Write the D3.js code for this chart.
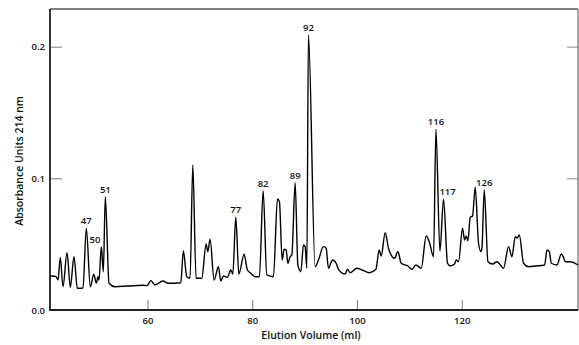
<!DOCTYPE html>
<html>
<head>
<meta charset="utf-8">
<script src="https://cdn.jsdelivr.net/npm/d3@7"></script>
<style>
  html, body { margin: 0; padding: 0; background: #fff; }
  svg { display: block; }
  text { font-family: "Open Sans", "Noto Sans", sans-serif; fill: #111; }
</style>
</head>
<body>
<svg id="chart" width="579" height="345"></svg>
<script>
// Elution volume (ml)
const volume = [41.40,41.97,42.55,42.93,43.37,43.88,44.65,45.28,45.98,46.62,47.70,48.33,49.10,49.75,50.24,50.57,50.76,51.20,51.58,51.96,
  52.67,53.76,56.30,59.17,59.93,60.64,61.46,62.93,64.00,66.37,66.86,67.51,68.14,68.66,69.29,70.38,71.20,71.52,71.96,72.73,
  73.55,74.01,74.50,75.27,75.92,76.30,76.87,77.45,78.46,79.09,79.74,80.56,81.38,82.09,82.79,84.06,84.82,85.20,85.72,86.10,
  86.48,86.81,87.25,87.57,88.20,88.72,89.29,89.79,90.11,90.43,90.74,92.02,92.65,93.61,94.12,94.56,95.33,96.03,96.47,97.75,
  98.19,98.71,99.99,101.00,102.39,103.62,104.25,104.63,105.39,106.02,107.17,107.82,108.45,109.73,110.49,111.26,112.27,113.22,113.80,114.62,
  115.08,115.84,116.53,117.29,117.81,118.63,118.95,119.39,120.16,120.54,120.86,121.19,121.63,122.07,122.58,123.21,123.67,123.86,124.30,125.01,
  125.89,126.73,127.36,127.99,128.94,129.59,130.22,130.61,130.99,131.81,132.77,134.05,135.82,136.28,136.72,137.10,138.19,139.01,139.39,139.78,
  140.73,142.20];
// Absorbance units at 214 nm
const absorbance = [0.0258,0.0258,0.0254,0.0228,0.0400,0.0177,0.0435,0.0172,0.0405,0.0165,0.0167,0.0621,0.0177,0.0271,0.0205,0.0253,0.0228,0.0481,0.0291,0.0861,
  0.0203,0.0177,0.0182,0.0188,0.0185,0.0223,0.0190,0.0220,0.0203,0.0207,0.0448,0.0253,0.0241,0.1101,0.0241,0.0241,0.0501,0.0443,0.0537,0.0228,
  0.0329,0.0220,0.0258,0.0248,0.0304,0.0273,0.0704,0.0273,0.0423,0.0304,0.0279,0.0253,0.0253,0.0906,0.0266,0.0253,0.0843,0.0823,0.0380,0.0461,
  0.0456,0.0355,0.0405,0.0418,0.0967,0.0342,0.0291,0.0494,0.0481,0.0317,0.2089,0.0329,0.0380,0.0481,0.0469,0.0317,0.0380,0.0355,0.0309,0.0273,
  0.0309,0.0283,0.0317,0.0304,0.0283,0.0309,0.0456,0.0410,0.0587,0.0469,0.0393,0.0443,0.0355,0.0334,0.0309,0.0342,0.0317,0.0562,0.0519,0.0405,
  0.1373,0.0448,0.0841,0.0355,0.0334,0.0349,0.0380,0.0367,0.0621,0.0532,0.0562,0.0526,0.0704,0.0714,0.0932,0.0507,0.0443,0.0469,0.0912,0.0367,
  0.0349,0.0367,0.0342,0.0317,0.0481,0.0405,0.0557,0.0547,0.0570,0.0355,0.0329,0.0334,0.0342,0.0456,0.0444,0.0355,0.0342,0.0425,0.0403,0.0367,
  0.0367,0.0342];

// Fraction labels placed at peaks
const peakLabels = ["47","50","51","77","82","89","92","116","117","126"];
const peakVolumes = [48.33,50.57,51.96,76.87,82.09,88.20,90.74,115.08,117.30,124.30];
const peakLabelValues = [0.0621,0.0481,0.0861,0.0704,0.0906,0.0967,0.2089,0.1373,0.0841,0.0912];

const xTicks = [60, 80, 100, 120];
const yTicks = [0.0, 0.1, 0.2];
const xTitle = "Elution Volume (ml)";
const yTitle = "Absorbance Units 214 nm";

const svg = d3.select("#chart");
const L = 50, R = 578, T = 9, B = 310;

const x = d3.scaleLinear().domain([41.4, 142.2]).range([L, R]);
const y = d3.scaleLinear().domain([0, 0.2286]).range([B, T]);

// Left axis (ticks inward)
const gl = svg.append("g").attr("transform", `translate(${L},0)`)
  .call(d3.axisLeft(y).tickValues(yTicks).tickSizeInner(-12).tickSizeOuter(0).tickPadding(5).tickFormat(d3.format(".1f")));
gl.select(".domain").remove();
gl.selectAll(".tick line").attr("stroke", "#777").attr("stroke-width", 1);
gl.selectAll(".tick text").attr("font-size", 9.5).attr("font-weight", 600).attr("font-family", "Open Sans");

// Right axis ticks
const gr = svg.append("g").attr("transform", `translate(${R},0)`)
  .call(d3.axisRight(y).tickValues([0.1, 0.2]).tickSizeInner(-11).tickSizeOuter(0).tickFormat(""));
gr.select(".domain").remove();
gr.selectAll(".tick line").attr("stroke", "#888").attr("stroke-width", 1);

// Bottom axis (ticks inward)
const gb = svg.append("g").attr("transform", `translate(0,${B})`)
  .call(d3.axisBottom(x).tickValues(xTicks).tickSizeInner(-10).tickSizeOuter(0).tickPadding(7).tickFormat(d3.format("d")));
gb.select(".domain").remove();
gb.selectAll(".tick line").attr("stroke", "#777").attr("stroke-width", 1);
gb.selectAll(".tick text").attr("font-size", 9.5).attr("font-weight", 600).attr("font-family", "Open Sans");

// Frame
svg.append("line").attr("x1", L).attr("x2", R).attr("y1", T).attr("y2", T).attr("stroke", "#555").attr("stroke-width", 1.5);
svg.append("line").attr("x1", R).attr("x2", R).attr("y1", T).attr("y2", B).attr("stroke", "#888").attr("stroke-width", 1.5);
svg.append("line").attr("x1", L).attr("x2", L).attr("y1", T).attr("y2", B + 1).attr("stroke", "#333").attr("stroke-width", 2);
svg.append("line").attr("x1", L).attr("x2", R).attr("y1", B).attr("y2", B).attr("stroke", "#222").attr("stroke-width", 2);

// Trace
const pts = volume.map((v, i) => [v, absorbance[i]]);
const line = d3.line().x(d => x(d[0])).y(d => y(d[1])).curve(d3.curveMonotoneX);
svg.append("path").datum(pts).attr("d", line)
  .attr("fill", "none").attr("stroke", "#000").attr("stroke-width", 1.4).attr("stroke-linejoin", "round");

// Peak labels
svg.append("g").selectAll("text").data(peakLabels).join("text")
  .attr("x", (d, i) => x(peakVolumes[i]) + (d === "50" ? -3 : 0))
  .attr("y", (d, i) => y(peakLabelValues[i]) - 4)
  .attr("text-anchor", "middle")
  .attr("font-size", 9.5).attr("font-weight", 600)
  .text(d => d);

// Axis titles
svg.append("text").attr("x", (L + R) / 2 - 3).attr("y", 339)
  .attr("text-anchor", "middle").attr("font-size", 10.5).attr("font-weight", 600).text(xTitle);
svg.append("text").attr("transform", "translate(23,161) rotate(-90)")
  .attr("text-anchor", "middle").attr("font-size", 10.5).attr("font-weight", 600).text(yTitle);
</script>
</body>
</html>
